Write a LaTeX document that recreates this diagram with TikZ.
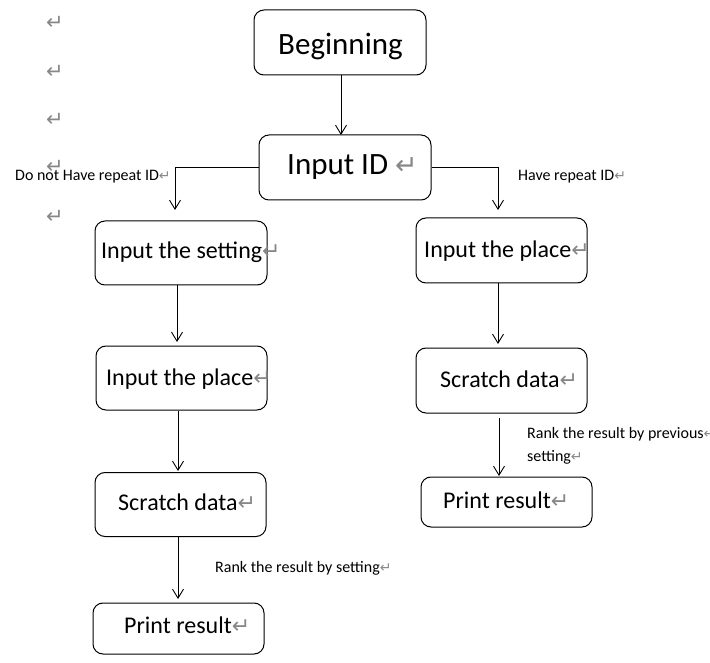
\documentclass[tikz,border=0pt]{standalone}
\usepackage{fontspec}
\setmainfont{Carlito}
\newfontfamily\dejavu{DejaVu Sans}
\usetikzlibrary{arrows.meta}
\definecolor{markgray}{RGB}{135,135,135}
\newcommand{\retmark}[1]{{\color{markgray}\fontsize{#1}{#1}\selectfont\dejavu ↵}}
\begin{document}
\begin{tikzpicture}[x=1pt,y=-1pt,
  box/.style={draw, line width=1pt, rounded corners=10pt, minimum width=171pt, minimum height=65pt, inner sep=0pt},
  bigtxt/.style={anchor=base west, inner sep=0pt, font=\fontsize{31pt}{31pt}\selectfont},
  midtxt/.style={anchor=base west, inner sep=0pt, font=\fontsize{24pt}{24pt}\selectfont},
  smalltxt/.style={anchor=base west, inner sep=0pt, font=\fontsize{16pt}{16pt}\selectfont},
  margmark/.style={inner sep=0pt},
  arr/.style={draw, line width=0.9pt, -{Straight Barb[length=9pt,width=11pt,line width=0.9pt]}},
  conn/.style={draw, line width=0.9pt}]
\useasboundingbox (0,0) rectangle (710,663);

% boxes
\node[box, minimum width=172pt] (beg) at (340,42.5) {};
\node[box, minimum width=172pt] (inid) at (345,167.5) {};
\node[box, minimum width=172pt, minimum height=64pt] (setL) at (181,253) {};
\node[box, minimum height=64pt] (placeL) at (181.5,378) {};
\node[box, minimum height=64pt] (scrL) at (180.5,504.5) {};
\node[box, minimum height=51pt] (prL) at (178.5,628.5) {};
\node[box] (placeR) at (501.5,250.5) {};
\node[box] (scrR) at (501.5,380.5) {};
\node[box, minimum height=50pt] (prR) at (506.5,502) {};

% texts
\node[bigtxt] (tbeg) at (278,55) {Beginning};
\node[bigtxt] (tinid) at (287,175) {Input ID \retmark{27pt}};
\node[midtxt] (tsetL) at (101,259) {Input the setting\retmark{22pt}};
\node[midtxt] (tplaceL) at (106,385) {Input the place\retmark{22pt}};
\node[midtxt] (tscrL) at (118,510) {Scratch data\retmark{22pt}};
\node[midtxt] (tprL) at (124,633) {Print result\retmark{22pt}};
\node[midtxt] (tplaceR) at (424,258) {Input the place\retmark{22pt}};
\node[midtxt] (tscrR) at (440,387) {Scratch data\retmark{22pt}};
\node[midtxt] (tprR) at (443,508) {Print result\retmark{22pt}};

\node[smalltxt] (lno) at (15,181) {Do not Have repeat ID\retmark{14pt}};
\node[smalltxt] (lyes) at (518,181) {Have repeat ID\retmark{14pt}};
\node[smalltxt] (lrank1) at (527,438) {Rank the result by previous\retmark{14pt}};
\node[smalltxt] (lrank2) at (527,461) {setting\retmark{14pt}};
\node[smalltxt] (lrankL) at (215,572) {Rank the result by setting\retmark{14pt}};

% margin paragraph marks
\node[margmark] (m1) at (55,23) {\retmark{21pt}};
\node[margmark] (m2) at (55,72) {\retmark{21pt}};
\node[margmark] (m3) at (55,120) {\retmark{21pt}};
\node[margmark] (m4) at (55,167) {\retmark{21pt}};
\node[margmark] (m5) at (55,217) {\retmark{21pt}};

% connector end points
\coordinate (tipBeg) at (341,135);
\coordinate (tipL) at (175,210);
\coordinate (tipR) at (498,210);
\coordinate (tipL2) at (177,342);
\coordinate (tipL3) at (178,471);
\coordinate (tipL4) at (178,599);
\coordinate (tipR2) at (498,344);
\coordinate (startR3) at (499,418);
\coordinate (tipR3) at (499,476);

% connectors
\draw[arr] (beg.south -| tipBeg) -- (tipBeg);
\draw[arr] (inid.west) -| (tipL);
\draw[arr] (inid.east) -| (tipR);
\draw[arr] (setL.south -| tipL2) -- (tipL2);
\draw[arr] (placeL.south -| tipL3) -- (tipL3);
\draw[arr] (scrL.south -| tipL4) -- (tipL4);
\draw[arr] (placeR.south -| tipR2) -- (tipR2);
\draw[arr] (startR3) -- (tipR3);
\end{tikzpicture}
\end{document}
